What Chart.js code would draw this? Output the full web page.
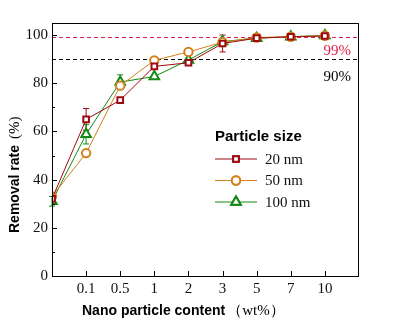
<!DOCTYPE html>
<html>
<head>
<meta charset="utf-8">
<script src="https://cdn.jsdelivr.net/npm/chart.js@4/dist/chart.umd.min.js"></script>
<style>
  html, body { margin: 0; padding: 0; background: #fff; }
  #wrap { width: 406px; height: 323px; }
</style>
</head>
<body>
<div id="wrap"><canvas id="myChart" width="406" height="323"></canvas></div>
<script>
// Data

const contents = ['', '0.1', '0.5', '1', '2', '3', '5', '7', '10', ''];
const yTicks = [0, 20, 40, 60, 80, 100];
const sizes = ['20 nm', '50 nm', '100 nm'];

const rate20 = [32, 65, 73, 87, 88.5, 96.5, 98.7, 99.3, 99.6];
const rate50 = [33, 51, 79, 89.5, 93, 97, 99, 99.3, 99.7];
const rate100 = [31, 58.8, 80.5, 82.8, 89.6, 97.3, 98.7, 99.3, 99.8];

const err20 = [0, 4.5, 0, 0, 0, 3.5, 0, 0, 0];
const err50 = [0, 0, 0, 0, 0, 0, 0, 0, 0];
const err100 = [2, 4, 3, 0, 0, 0, 0, 0, 0];

const refLines = [99, 90];
const refLabels = ['99%', '90%'];

// Settings

const colors = {
  red: '#9e0a12',
  orange: '#d4801c',
  green: '#138a13',
  ref99: '#e0204a',
  ref90: '#000',
  text: '#111',
};

const fonts = {
  serif: '"Liberation Serif", "Times New Roman", serif',
  sans: '"Liberation Sans", Arial, sans-serif',
};

function toPoints(values) {
  return values.map(function(v, i) { return { x: i, y: v }; });
}

const series = [
  { label: sizes[0], values: rate20, errors: err20, color: colors.red, style: 'rect', radius: 4 },
  { label: sizes[1], values: rate50, errors: err50, color: colors.orange, style: 'circle', radius: 4.2 },
  { label: sizes[2], values: rate100, errors: err100, color: colors.green, style: 'triangle', radius: 5.5 },
];

// Plugins

const errorBars = {
  id: 'errorBars',
  beforeDatasetsDraw(chart) {
    const ctx = chart.ctx;
    const xs = chart.scales.x;
    const ys = chart.scales.y;
    ctx.save();
    ctx.lineWidth = 1;
    series.forEach(function(s) {
      ctx.strokeStyle = s.color;
      s.errors.forEach(function(e, i) {
        if (!e) return;
        const px = xs.getPixelForValue(i);
        const top = ys.getPixelForValue(s.values[i] + e);
        const bot = ys.getPixelForValue(s.values[i] - e);
        ctx.beginPath();
        ctx.moveTo(px, top); ctx.lineTo(px, bot);
        ctx.moveTo(px - 3, top); ctx.lineTo(px + 3, top);
        ctx.moveTo(px - 3, bot); ctx.lineTo(px + 3, bot);
        ctx.stroke();
      });
    });
    ctx.restore();
  }
};

const decorations = {
  id: 'decorations',
  beforeDatasetsDraw(chart) {
    const ctx = chart.ctx;
    const area = chart.chartArea;
    const ys = chart.scales.y;
    ctx.save();
    ctx.lineWidth = 1;
    ctx.setLineDash([4, 3]);
    refLines.forEach(function(v, i) {
      const py = Math.round(ys.getPixelForValue(v)) + 0.5;
      ctx.strokeStyle = i === 0 ? colors.ref99 : colors.ref90;
      ctx.beginPath();
      ctx.moveTo(area.left, py);
      ctx.lineTo(area.right, py);
      ctx.stroke();
    });
    ctx.restore();
  },
  afterDraw(chart) {
    const ctx = chart.ctx;
    const area = chart.chartArea;
    const xs = chart.scales.x;
    const ys = chart.scales.y;
    ctx.save();

    // frame and inner ticks
    ctx.strokeStyle = '#000';
    ctx.lineWidth = 1;
    ctx.strokeRect(area.left + 0.5, area.top + 0.5, area.right - area.left - 1, area.bottom - area.top);
    ctx.beginPath();
    for (let v = 0; v <= 100; v += 10) {
      const py = Math.round(ys.getPixelForValue(v)) + 0.5;
      const len = v % 20 === 0 ? 5 : 3;
      ctx.moveTo(area.left, py); ctx.lineTo(area.left + len, py);
    }
    for (let i = 1; i < contents.length - 1; i++) {
      const px = Math.round(xs.getPixelForValue(i)) + 0.5;
      ctx.moveTo(px, area.bottom); ctx.lineTo(px, area.bottom - 5);
    }
    ctx.stroke();

    // reference labels
    ctx.font = '15px ' + fonts.serif;
    ctx.textAlign = 'right';
    ctx.textBaseline = 'middle';
    ctx.fillStyle = colors.ref99;
    ctx.fillText(refLabels[0], area.right - 8, ys.getPixelForValue(93.5));
    ctx.fillStyle = colors.ref90;
    ctx.fillText(refLabels[1], area.right - 8, ys.getPixelForValue(82.5));

    // axis titles
    ctx.fillStyle = '#000';
    ctx.textAlign = 'left';
    ctx.font = 'bold 14px ' + fonts.sans;
    const xTitle = 'Nano particle content';
    ctx.fillText(xTitle, 82, 311);
    const w = ctx.measureText(xTitle).width;
    ctx.font = '15px ' + fonts.serif;
    ctx.fillText('（wt%）', 82 + w + 2, 311);

    ctx.translate(15, 233);
    ctx.rotate(-Math.PI / 2);
    ctx.font = 'bold 14px ' + fonts.sans;
    const yTitle = 'Removal rate';
    ctx.fillText(yTitle, 0, 0);
    const wy = ctx.measureText(yTitle).width;
    ctx.font = '15px ' + fonts.serif;
    ctx.fillText('(%)', wy + 6, 0);
    ctx.setTransform(1, 0, 0, 1, 0, 0);

    // legend
    ctx.font = 'bold 15px ' + fonts.sans;
    ctx.fillStyle = '#000';
    ctx.fillText('Particle size', 215, 137);
    series.forEach(function(s, i) {
      const py = 159 + i * 21.5;
      ctx.strokeStyle = s.color;
      ctx.lineWidth = 1.2;
      ctx.beginPath();
      ctx.moveTo(215, py); ctx.lineTo(257, py);
      ctx.stroke();
      ctx.lineWidth = 2;
      ctx.fillStyle = '#fff';
      Chart.helpers.drawPoint(ctx, { pointStyle: s.style, radius: s.radius, rotation: 0, borderWidth: 2 }, 236, py);
      ctx.fill();
      ctx.stroke();
      ctx.fillStyle = colors.text;
      ctx.font = '15px ' + fonts.serif;
      ctx.fillText(s.label, 265, py + 1);
    });
    ctx.restore();
  }
};

// Chart

const ctx = document.getElementById('myChart').getContext('2d');

/* eslint-disable */
const chart = new Chart(ctx, {
  type: 'line',
  data: {
    datasets: series.map(function(s) {
      return {
        label: s.label,
        data: toPoints(s.values),
        borderColor: s.color,
        backgroundColor: '#fff',
        borderWidth: 1,
        pointStyle: s.style,
        pointRadius: s.radius,
        pointBorderWidth: 2,
        pointBackgroundColor: '#fff',
        pointBorderColor: s.color,
        tension: 0,
      };
    }),
  },
  options: {
    responsive: false,
    animation: false,
    events: [],
    layout: { padding: { top: 23, right: 47, left: 0, bottom: 0 } },
    plugins: { legend: { display: false }, tooltip: { enabled: false } },
    scales: {
      x: {
        type: 'linear',
        min: 0,
        max: 9,
        afterFit: function(s) { s.height = 47; },
        afterBuildTicks: function(s) {
          s.ticks = contents.map(function(c, i) { return { value: i }; });
        },
        grid: { display: false, drawTicks: false },
        border: { display: false },
        ticks: {
          autoSkip: false,
          maxRotation: 0,
          padding: 4,
          color: colors.text,
          font: { family: fonts.serif, size: 15 },
          callback: function(v) { return contents[v]; },
        },
      },
      y: {
        min: 0,
        max: 105,
        afterFit: function(s) { s.width = 52; },
        afterBuildTicks: function(s) {
          s.ticks = yTicks.map(function(v) { return { value: v }; });
        },
        grid: { display: false, drawTicks: false },
        border: { display: false },
        ticks: {
          padding: 4,
          color: colors.text,
          font: { family: fonts.serif, size: 15 },
        },
      },
    },
  },
  plugins: [errorBars, decorations],
});
</script>
</body>
</html>
